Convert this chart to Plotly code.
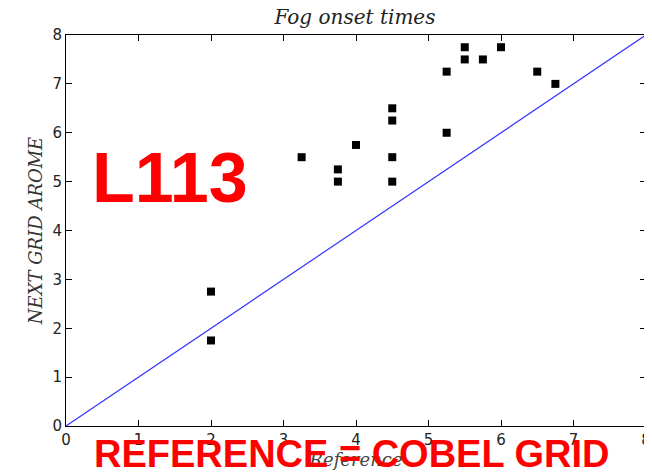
import plotly.graph_objects as go

ref_x = [2.0, 2.0, 3.25, 3.75, 3.75, 4.0, 4.5, 4.5, 4.5, 4.5, 5.25, 5.25, 5.5, 5.5, 5.75, 6.0, 6.5, 6.75]
arome_y = [2.75, 1.75, 5.5, 5.25, 5.0, 5.75, 6.5, 6.25, 5.5, 5.0, 7.25, 6.0, 7.75, 7.5, 7.5, 7.75, 7.25, 7.0]
diag = [0, 8]
ticks = [0, 1, 2, 3, 4, 5, 6, 7, 8]

fig = go.Figure()
fig.add_trace(go.Scatter(x=diag, y=diag, mode="lines",
                         line=dict(color="#3333ff", width=1.2), showlegend=False))
fig.add_trace(go.Scatter(x=ref_x, y=arome_y, mode="markers",
                         marker=dict(symbol="square", size=8, color="black"),
                         showlegend=False))

axis_common = dict(range=[0, 8], tickvals=ticks, ticks="inside", ticklen=6,
                   tickcolor="black", showline=True, linecolor="black", linewidth=1,
                   mirror="allticks", showgrid=False, zeroline=False, automargin=False,
                   tickfont=dict(family="DejaVu Sans", size=15, color="#222"))

# page body has an 8px margin; figure sized so the plot area lands at x 66-646, y 35-426
fig.update_layout(
    width=644, height=464,
    margin=dict(l=58, r=6, t=27, b=46),
    plot_bgcolor="white", paper_bgcolor="white",
    title=dict(text="<i>Fog onset times</i>", x=(355 - 8) / 644, xanchor="center",
               y=1 - 9 / 464, yanchor="middle",
               font=dict(family="DejaVu Serif", size=20, color="#222")),
    xaxis=dict(**axis_common,
               title=dict(text="<i>Reference</i>", standoff=2,
                          font=dict(family="DejaVu Serif", size=18, color="#444"))),
    yaxis=dict(**axis_common,
               title=dict(text="<i>NEXT GRID AROME</i>", standoff=5,
                          font=dict(family="DejaVu Serif", size=18, color="#333"))),
)

fig.add_annotation(text="<b>L113</b>", xref="paper", yref="paper",
                   xanchor="center", yanchor="middle",
                   x=(170 - 66) / 580, y=(426 - 178) / 391, showarrow=False,
                   font=dict(family="Liberation Sans", size=70, color="#ff0000"))
fig.add_annotation(text="<b>REFERENCE = COBEL GRID</b>", xref="paper", yref="paper",
                   xanchor="center", yanchor="middle",
                   x=(352 - 66) / 580, y=(426 - 454) / 391, showarrow=False,
                   font=dict(family="Liberation Sans", size=38, color="#ff0000"))

fig.write_html("out.html")
